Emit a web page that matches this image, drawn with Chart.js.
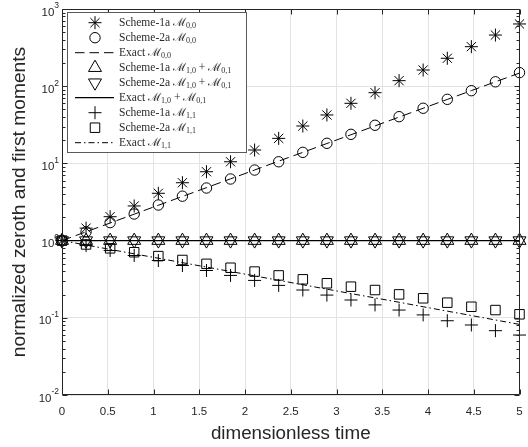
<!DOCTYPE html>
<html lang="en">
<head>
<meta charset="UTF-8">
<title>Zeroth and first moments</title>
<script src="https://cdn.jsdelivr.net/npm/chart.js"></script>
<style>
  html, body { margin: 0; padding: 0; background: #fff; }
  #wrap { width: 528px; height: 447px; }
</style>
</head>
<body>
<div id="wrap"><canvas id="moments" width="528" height="447"></canvas></div>
<script>
// sample times (20 steps over 0..5)
const times = [0, 0.263, 0.526, 0.789, 1.053, 1.316, 1.579, 1.842, 2.105, 2.368,
               2.632, 2.895, 3.158, 3.421, 3.684, 3.947, 4.211, 4.474, 4.737, 5];

// M_{0,0}
const scheme1aM00 = [1, 1.45, 2.04, 2.81, 4.10, 5.62, 7.80, 10.5, 14.9, 21.1,
                     30.5, 42.4, 60.0, 82.4, 118, 162, 230, 325, 460, 640];
const scheme2aM00 = [1, 1.30, 1.71, 2.21, 2.89, 3.76, 4.80, 6.28, 8.20, 10.5,
                     13.9, 18.2, 23.8, 31.2, 40.3, 51.8, 67.6, 87.5, 114, 150];
const exactM00    = [1, 1.30, 1.69, 2.20, 2.87, 3.73, 4.85, 6.31, 8.21, 10.7,
                     13.9, 18.1, 23.5, 30.6, 39.8, 51.8, 67.4, 87.7, 114, 148];

// M_{1,0} + M_{0,1}
const scheme1aM10 = [1, 1, 1, 1, 1, 1, 1, 1, 1, 1, 1, 1, 1, 1, 1, 1, 1, 1, 1, 1];
const scheme2aM10 = [1, 1, 1, 1, 1, 1, 1, 1, 1, 1, 1, 1, 1, 1, 1, 1, 1, 1, 1, 1];
const exactM10    = [1, 1, 1, 1, 1, 1, 1, 1, 1, 1, 1, 1, 1, 1, 1, 1, 1, 1, 1, 1];

// M_{1,1}
const scheme1aM11 = [1, 0.862, 0.743, 0.641, 0.552, 0.476, 0.410, 0.354, 0.305, 0.263,
                     0.229, 0.197, 0.170, 0.147, 0.126, 0.109, 0.0916, 0.0807, 0.0681, 0.0598];
const scheme2aM11 = [1, 0.891, 0.794, 0.707, 0.630, 0.561, 0.500, 0.445, 0.397, 0.354,
                     0.315, 0.280, 0.253, 0.229, 0.201, 0.179, 0.157, 0.139, 0.126, 0.111];
const exactM11    = [1, 0.877, 0.769, 0.674, 0.591, 0.518, 0.454, 0.398, 0.349, 0.306,
                     0.268, 0.235, 0.206, 0.181, 0.159, 0.139, 0.122, 0.107, 0.0937, 0.0821];

const xTickLabels = ['0', '0.5', '1', '1.5', '2', '2.5', '3', '3.5', '4', '4.5', '5'];
const yTickExponents = ['-2', '-1', '0', '1', '2', '3'];

const AXIS = '#262626';
const GRID = '#e3e3e3';
const SANS = '"Liberation Sans", Arial, sans-serif';
const SERIF = '"Liberation Serif", "DejaVu Serif", serif';

Chart.defaults.font.family = SANS;

function pts(vals) {
  return vals.map((v, i) => ({ x: times[i], y: v }));
}

function markers(label, vals, style, radius, rotation) {
  return {
    label, data: pts(vals), showLine: false,
    pointStyle: style, pointRadius: radius, pointHoverRadius: radius,
    pointRotation: rotation || 0,
    pointBorderColor: '#000', pointBackgroundColor: 'rgba(0,0,0,0)',
    pointBorderWidth: 1, borderColor: '#000', clip: false
  };
}

function curve(label, vals, dash, width) {
  return {
    label, data: pts(vals), pointRadius: 0, pointHoverRadius: 0,
    borderColor: '#000', borderWidth: width, borderDash: dash,
    fill: false, tension: 0, clip: false
  };
}

// inward ticks, box and the superscript y labels
const axesBox = {
  id: 'axesBox',
  afterDatasetsDraw(chart) {
    const { ctx, chartArea: a, scales: { x, y } } = chart;
    ctx.save();
    ctx.strokeStyle = AXIS;
    ctx.lineWidth = 1;
    ctx.beginPath();
    const L = Math.round(a.left) + 0.5, R = Math.round(a.right) - 0.5;
    const T = Math.round(a.top) + 0.5, B = Math.round(a.bottom) - 0.5;
    ctx.moveTo(L, T); ctx.lineTo(R, T); ctx.lineTo(R, B); ctx.lineTo(L, B); ctx.closePath();
    xTickLabels.forEach(l => {
      const px = Math.round(x.getPixelForValue(Number(l))) + 0.5;
      ctx.moveTo(px, B); ctx.lineTo(px, B - 5);
      ctx.moveTo(px, T); ctx.lineTo(px, T + 5);
    });
    yTickExponents.forEach(e => {
      const d = Number(e);
      const py = Math.round(y.getPixelForValue(Math.pow(10, d))) + 0.5;
      ctx.moveTo(L, py); ctx.lineTo(L + 5, py);
      ctx.moveTo(R, py); ctx.lineTo(R - 5, py);
      if (d < 3) {
        for (let k = 2; k <= 9; k++) {
          const pm = Math.round(y.getPixelForValue(k * Math.pow(10, d))) + 0.5;
          ctx.moveTo(L, pm); ctx.lineTo(L + 3, pm);
          ctx.moveTo(R, pm); ctx.lineTo(R - 3, pm);
        }
      }
    });
    ctx.stroke();

    ctx.fillStyle = AXIS;
    ctx.textAlign = 'right';
    ctx.textBaseline = 'middle';
    yTickExponents.forEach(e => {
      const py = y.getPixelForValue(Math.pow(10, Number(e)));
      const xr = a.left - 3;
      ctx.font = '8.5px ' + SANS;
      const w = ctx.measureText(e).width;
      ctx.fillText(e, xr, py - 3);
      ctx.font = '11.5px ' + SANS;
      ctx.fillText('10', xr - w, py + 3.5);
    });
    ctx.restore();
  },
  afterDraw(chart) {
    const { ctx } = chart;
    const box = { x: 67.5, y: 12.5, w: 179, h: 140 };
    ctx.save();
    ctx.fillStyle = '#fff';
    ctx.strokeStyle = '#5a5a5a';
    ctx.lineWidth = 1;
    ctx.fillRect(box.x, box.y, box.w, box.h);
    ctx.strokeRect(box.x, box.y, box.w, box.h);

    chart.data.datasets.forEach((ds, i) => {
      const cy = 22.7 + 15 * i;
      ctx.strokeStyle = '#000';
      ctx.fillStyle = 'rgba(0,0,0,0)';
      ctx.lineWidth = 1;
      if (ds.showLine === false) {
        Chart.helpers.drawPoint(ctx, {
          pointStyle: ds.pointStyle, rotation: ds.pointRotation,
          radius: ds.pointRadius, borderWidth: 1
        }, 95, cy);
      } else {
        ctx.lineWidth = ds.borderWidth;
        ctx.setLineDash(ds.borderDash || []);
        ctx.beginPath();
        ctx.moveTo(75, cy); ctx.lineTo(114, cy);
        ctx.stroke();
        ctx.setLineDash([]);
      }
      // label text: "M_{a,b}" becomes a script M with a subscript
      ctx.fillStyle = '#2a2a2a';
      ctx.textAlign = 'left';
      ctx.textBaseline = 'middle';
      let tx = 119;
      ds.label.split(/(M_\{[^}]*\})/).forEach(seg => {
        if (!seg) return;
        const m = seg.match(/^M_\{([^}]*)\}$/);
        if (m) {
          ctx.font = '11.5px ' + SERIF;
          ctx.fillText('\u2133', tx, cy);
          tx += ctx.measureText('\u2133').width;
          ctx.font = '8px ' + SERIF;
          ctx.fillText(m[1], tx, cy + 3.5);
          tx += ctx.measureText(m[1]).width;
        } else {
          ctx.font = '11.5px ' + SERIF;
          ctx.fillText(seg, tx, cy);
          tx += ctx.measureText(seg).width;
        }
      });
    });
    ctx.restore();
  }
};

new Chart(document.getElementById('moments'), {
  type: 'line',
  data: {
    datasets: [
      markers('Scheme-1a M_{0,0}', scheme1aM00, 'star', 6.5),
      markers('Scheme-2a M_{0,0}', scheme2aM00, 'circle', 5.2),
      curve('Exact M_{0,0}', exactM00, [9.5, 5], 1),
      markers('Scheme-1a M_{1,0} + M_{0,1}', scheme1aM10, 'triangle', 7.5),
      markers('Scheme-2a M_{1,0} + M_{0,1}', scheme2aM10, 'triangle', 7.5, 180),
      curve('Exact M_{1,0} + M_{0,1}', exactM10, [], 1.3),
      markers('Scheme-1a M_{1,1}', scheme1aM11, 'cross', 6.5),
      markers('Scheme-2a M_{1,1}', scheme2aM11, 'rect', 6.7),
      curve('Exact M_{1,1}', exactM11, [6, 3, 1.5, 3], 1)
    ]
  },
  options: {
    responsive: false,
    animation: false,
    devicePixelRatio: 1,
    layout: { padding: { top: 9, right: 2, left: 0, bottom: 0 } },
    plugins: { legend: { display: false }, tooltip: { enabled: false } },
    scales: {
      x: {
        type: 'linear', min: 0, max: 5,
        afterBuildTicks: s => { s.ticks = xTickLabels.map(l => ({ value: Number(l) })); },
        afterFit: s => { s.height = 52; s.paddingLeft = 0; s.paddingRight = 0; },
        ticks: {
          callback: (v, i) => xTickLabels[i],
          color: AXIS, font: { size: 11.5 }, padding: 10,
          maxRotation: 0, autoSkip: false
        },
        grid: { color: GRID, drawTicks: false },
        border: { display: false },
        title: {
          display: true, text: 'dimensionless time', color: AXIS,
          font: { size: 18.8, lineHeight: 1 }, padding: { top: 0, bottom: 4 }
        }
      },
      y: {
        type: 'logarithmic', min: 0.01, max: 1000,
        afterBuildTicks: s => { s.ticks = yTickExponents.map(e => ({ value: Math.pow(10, Number(e)) })); },
        afterFit: s => { s.width = 62; },
        ticks: { display: false },
        grid: { color: GRID, drawTicks: false },
        border: { display: false },
        title: {
          display: true, text: 'normalized zeroth and first moments', color: AXIS,
          font: { size: 19.2, lineHeight: 1 }, padding: { top: 10, bottom: 0 }
        }
      }
    }
  },
  plugins: [axesBox]
});
</script>
</body>
</html>
